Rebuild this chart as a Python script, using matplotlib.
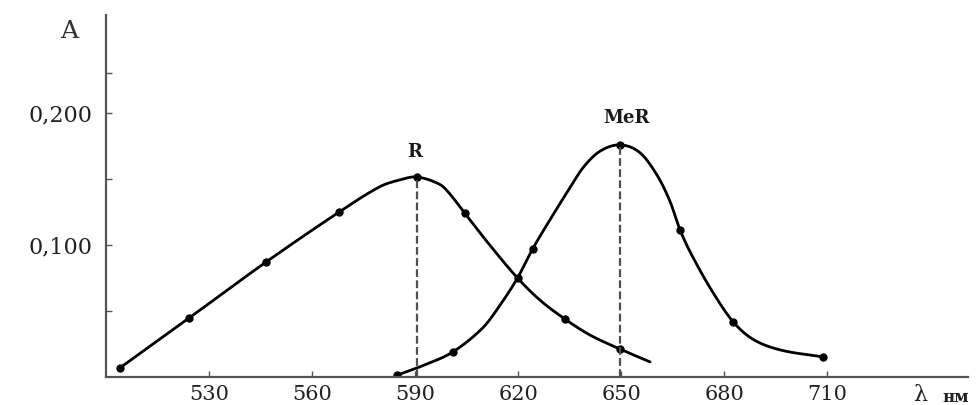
import numpy as np
import matplotlib
matplotlib.use("Agg")
import matplotlib.pyplot as plt

# --- data ---
r_x = [504.0, 524.2, 546.6, 567.9, 579.6, 585.4, 590.4, 597.1, 600.0, 604.4, 611.7,
       619.8, 626.3, 633.6, 640.9, 649.6, 658.4]
r_y = [0.0068, 0.0447, 0.0871, 0.125, 0.144, 0.1492, 0.1515, 0.1460, 0.139, 0.1242, 0.100,
       0.075, 0.0583, 0.0439, 0.0318, 0.0212, 0.0114]
r_mark_x = [504.0, 524.2, 546.6, 567.9, 590.4, 604.4, 619.8, 633.6, 649.6]
r_mark_y = [0.0068, 0.0447, 0.0871, 0.125, 0.1515, 0.1242, 0.075, 0.0439, 0.0212]

mer_x = [584.8, 592.7, 600.9, 609.6, 614.6, 619.8, 624.2, 629.2, 634.1, 638.8, 643.8,
         649.6, 655.4, 660.4, 664.2, 667.1, 670.9, 676.7, 682.6, 688.4, 696.3, 708.8]
mer_y = [0.0015, 0.0091, 0.0189, 0.0370, 0.0540, 0.0750, 0.0970, 0.1189, 0.1394, 0.1583, 0.1710,
         0.1758, 0.1700, 0.1530, 0.1330, 0.1114, 0.0905, 0.0640, 0.0417, 0.0285, 0.0205, 0.0152]
mer_mark_x = [584.8, 600.9, 624.2, 649.6, 667.1, 682.6, 708.8]
mer_mark_y = [0.0015, 0.0189, 0.0970, 0.1758, 0.1114, 0.0417, 0.0152]

x_ticks = [530, 560, 590, 620, 650, 680, 710]
y_ticks = [0.100, 0.200]
y_tick_labels = ["0,100", "0,200"]
y_minor = [0.05, 0.15, 0.23]
peaks = [("R", 590.4, 0.1515, 589.8, 0.1705), ("MeR", 649.6, 0.1758, 651.6, 0.1965)]


def smooth(xs, ys, n=16):
    """Cubic Hermite rendering of y(x) through the read points."""
    x = np.asarray(xs, float); y = np.asarray(ys, float)
    m = np.empty_like(y)
    m[1:-1] = (y[2:] - y[:-2]) / (x[2:] - x[:-2])
    m[0] = (y[1] - y[0]) / (x[1] - x[0])
    m[-1] = (y[-1] - y[-2]) / (x[-1] - x[-2])
    X, Y = [], []
    for i in range(len(x) - 1):
        h = x[i + 1] - x[i]
        t = np.linspace(0, 1, n, endpoint=False)
        h00 = 2 * t**3 - 3 * t**2 + 1
        h10 = t**3 - 2 * t**2 + t
        h01 = -2 * t**3 + 3 * t**2
        h11 = t**3 - t**2
        X.append(x[i] + t * h)
        Y.append(h00 * y[i] + h10 * h * m[i] + h01 * y[i + 1] + h11 * h * m[i + 1])
    X.append([x[-1]]); Y.append([y[-1]])
    return np.concatenate(X), np.concatenate(Y)


plt.rcParams['font.family'] = ['DejaVu Serif', 'Liberation Serif']

fig = plt.figure(figsize=(9.76, 4.05), dpi=100)
ax = fig.add_axes([0.1086, 0.0691, 0.8834, 0.8939])

sx, sy = smooth(r_x, r_y)
ax.plot(sx, sy, color='black', lw=2.0, solid_capstyle='round')
sx, sy = smooth(mer_x, mer_y)
ax.plot(sx, sy, color='black', lw=2.0, solid_capstyle='round')
ax.plot(r_mark_x, r_mark_y, 'o', color='black', ms=5)
ax.plot(mer_mark_x, mer_mark_y, 'o', color='black', ms=5)

for name, px, py, lx, ly in peaks:
    ax.plot([px, px], [0, py], color='#505050', lw=1.6, ls=(0, (3.5, 1.5)))
    ax.text(lx, ly, name, ha='center', va='center', fontsize=13,
            fontweight='bold', color='#1a1a1a')

ax.set_xlim(500, 751)
ax.set_ylim(0, 0.2742)
ax.set_xticks(x_ticks)
ax.set_xticklabels([str(v) for v in x_ticks], fontsize=15, color='#222222')
ax.set_yticks(y_ticks)
ax.set_yticklabels(y_tick_labels, fontsize=16, color='#222222')
ax.set_yticks(y_minor, minor=True)
ax.tick_params(axis='both', which='both', direction='in', length=4, width=1, color='#555555')
ax.tick_params(axis='x', pad=6)
ax.tick_params(axis='y', pad=10)

for s in ['top', 'right']:
    ax.spines[s].set_visible(False)
for s in ['left', 'bottom']:
    ax.spines[s].set_color('#555555')
    ax.spines[s].set_linewidth(1.6)

fig.text(69 / 976, 1 - 32 / 405, "A", fontsize=18, ha='center', va='center', color='#333333')
fig.text(920 / 976, 1 - 395 / 405, "λ", fontsize=16, ha='center', va='center', color='#222222')
fig.text(956 / 976, 1 - 397 / 405, "нм", fontsize=12, ha='center', va='center',
         fontweight='bold', color='#222222')

fig.savefig("out.png", dpi=100, facecolor='white')
